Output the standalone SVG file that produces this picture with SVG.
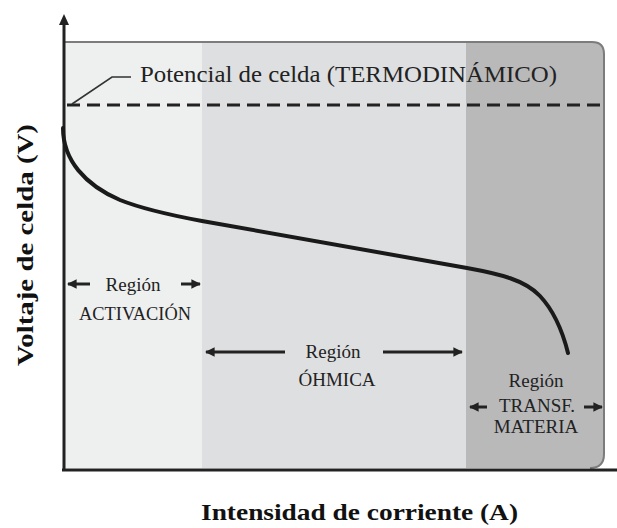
<svg xmlns="http://www.w3.org/2000/svg" width="617" height="528" viewBox="0 0 617 528">
<defs>
<style>
.lbl{font-size:19px;fill:#222;text-anchor:middle}
.ax{font-size:24px;font-weight:bold;fill:#111}
.arr{stroke:#222;stroke-width:3;fill:none;marker-end:url(#ah)}
</style>
<marker id="ah" viewBox="0 0 10 10" refX="9" refY="5" markerWidth="3.2" markerHeight="3.2" orient="auto" markerUnits="strokeWidth">
<path d="M0,0 L10,5 L0,10 Z" fill="#222"/>
</marker>
</defs>
<g id="background">
<rect x="64" y="42" width="140" height="426" fill="#eeefef"/>
<rect x="202" y="42" width="266" height="426" fill="#dedfe1"/>
<path d="M466,42 H592 Q604,42 604,54 V454 Q604,468 590,468 H466 Z" fill="#b9b9ba"/>
<path d="M64,42 H592 Q604,42 604,54 V454 Q604,468 590,468" fill="none" stroke="#7c7c7c" stroke-width="2"/>
</g>
<g id="connectors">
<line x1="64" y1="471" x2="64" y2="24" stroke="#222" stroke-width="3"/>
<path d="M64,14 L69,25 L59,25 Z" fill="#222"/>
<line x1="62" y1="470" x2="617" y2="470" stroke="#222" stroke-width="3"/>
<line x1="67" y1="105" x2="604" y2="105" stroke="#222" stroke-width="3" stroke-dasharray="13 7"/>
<polyline points="72,104 112,77 131,77" fill="none" stroke="#333" stroke-width="1.6"/>
<path d="M63,128 C63,160 85,185 120,200 C145,210 175,216 202,221 L467,268 C500,274 525,280 540,296 C555,312 563,333 568,353" fill="none" stroke="#1a1a1a" stroke-width="4" stroke-linecap="round"/>
<line class="arr" x1="90" y1="284" x2="68" y2="284"/>
<line class="arr" x1="181" y1="284" x2="200" y2="284"/>
<line class="arr" x1="285" y1="352" x2="206" y2="352"/>
<line class="arr" x1="383" y1="352" x2="462" y2="352"/>
<line class="arr" x1="487" y1="407" x2="470" y2="407"/>
<line class="arr" x1="584" y1="407" x2="602" y2="407"/>
</g>
<g id="title">
<text x="140" y="82" font-family="Liberation Serif, Times New Roman, serif" font-size="24" fill="#222" textLength="417" lengthAdjust="spacingAndGlyphs">Potencial de celda (TERMODINÁMICO)</text>
</g>
<g id="activacion" font-family="Liberation Serif, Times New Roman, serif">
<text class="lbl" x="133" y="291">Región</text>
<text class="lbl" x="135" y="320" textLength="112" lengthAdjust="spacingAndGlyphs">ACTIVACIÓN</text>
</g>
<g id="ohmica" font-family="Liberation Serif, Times New Roman, serif">
<text class="lbl" x="333" y="358">Región</text>
<text class="lbl" x="337" y="386">ÓHMICA</text>
</g>
<g id="transf" font-family="Liberation Serif, Times New Roman, serif">
<text class="lbl" x="536" y="387">Región</text>
<text class="lbl" x="537" y="412">TRANSF.</text>
<text class="lbl" x="536" y="433">MATERIA</text>
</g>
<g id="axis-labels" font-family="Liberation Serif, Times New Roman, serif">
<text class="ax" transform="translate(33,245) rotate(-90)" text-anchor="middle" textLength="242" lengthAdjust="spacingAndGlyphs">Voltaje de celda (V)</text>
<text class="ax" x="201" y="520" textLength="317" lengthAdjust="spacingAndGlyphs">Intensidad de corriente (A)</text>
</g>
</svg>
